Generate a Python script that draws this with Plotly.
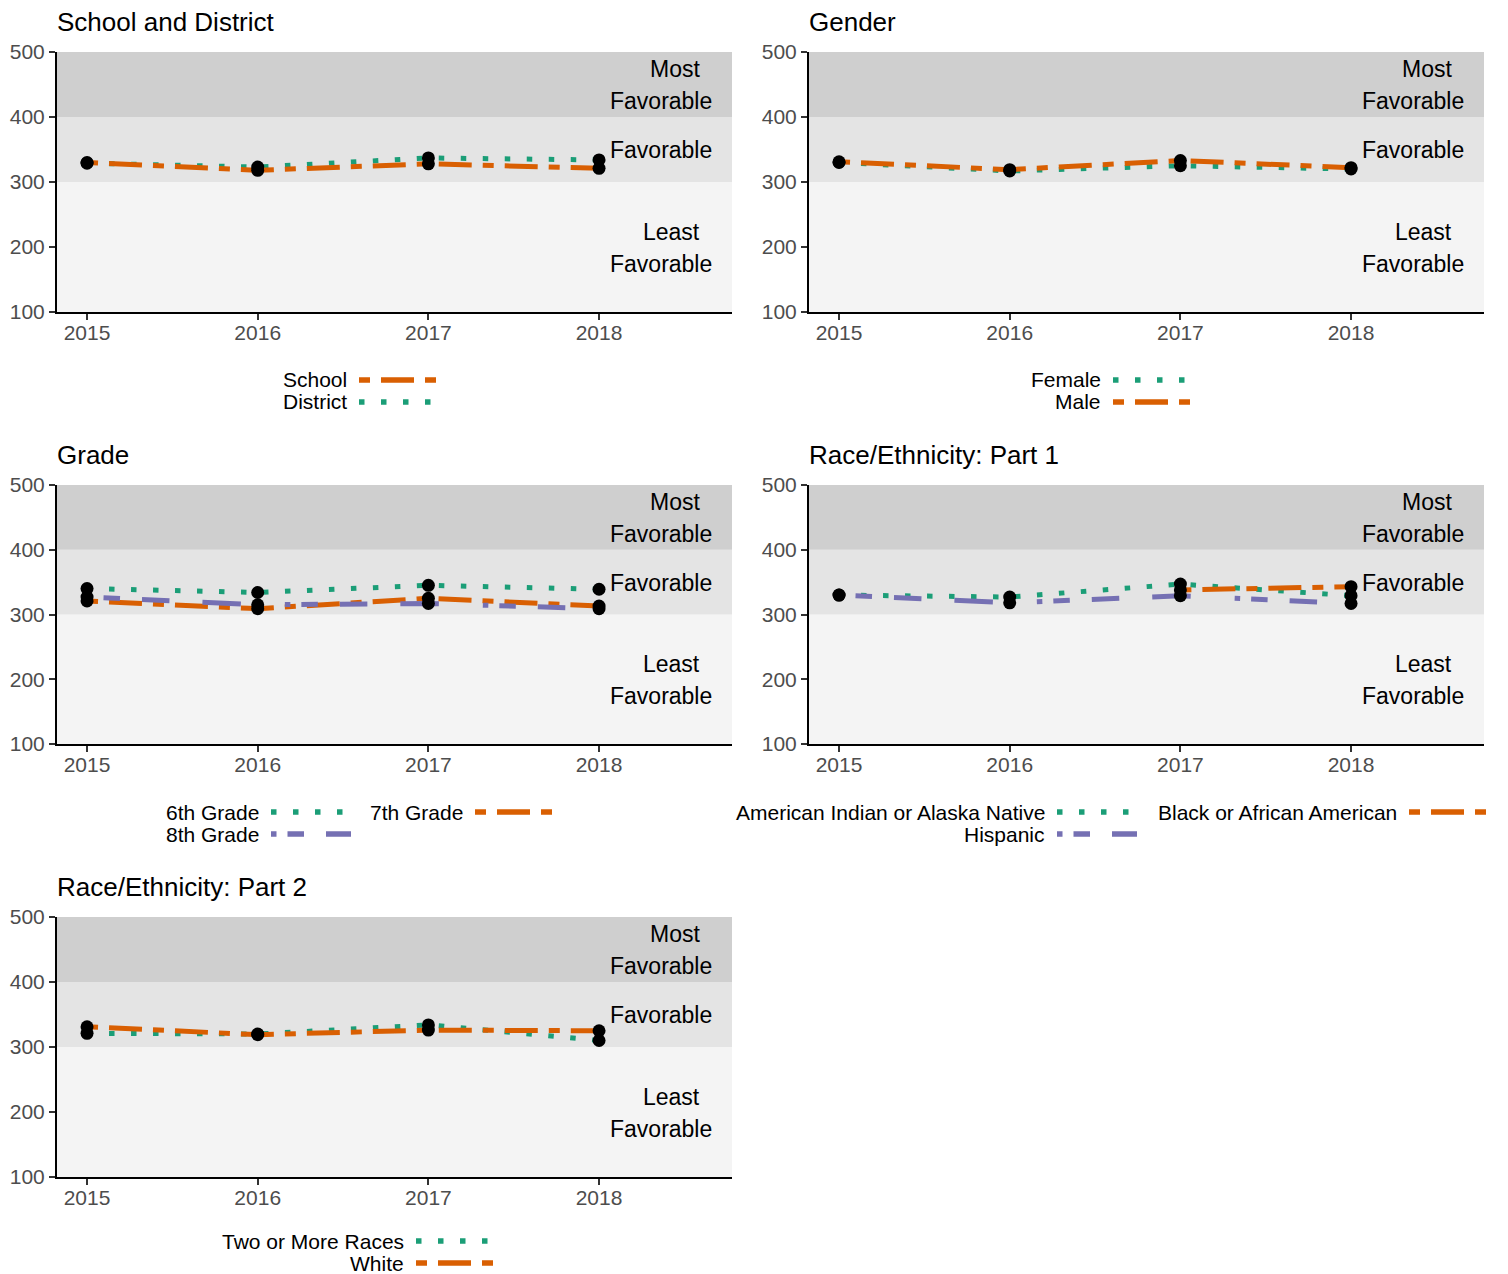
import plotly.graph_objects as go

# ---------------- data ----------------
years = [2015, 2016, 2017, 2018]
year_ticks = [2015, 2016, 2017, 2018]
y_ticks = [100, 200, 300, 400, 500]

panel_titles = ["School and District", "Gender", "Grade",
                "Race/Ethnicity: Part 1", "Race/Ethnicity: Part 2"]

# School and District
school = [330, 318, 328, 321]
district = [329, 323, 337, 334]
# Gender
female = [330, 317, 325, 320]
male = [331, 319, 333, 322]
# Grade
grade6 = [340, 334, 345, 339]
grade7 = [321, 309, 325, 313]
grade8 = [327, 315, 317, 309]
# Race/Ethnicity part 1
aian = [330, 327, 347, 329]
black = [None, None, 338, 343]
hispanic = [330, 318, 329, 317]
# Race/Ethnicity part 2
two_or_more = [321, 320, 334, 310]
white = [331, 319, 326, 325]

# favorability bands (lower, upper)
band_edges = [100, 300, 400, 500]

# ---------------- styles ----------------
FONT = "Liberation Sans, Arial, Helvetica, sans-serif"
GREEN, ORANGE, PURPLE = "#1B9E77", "#D95F02", "#7570B3"
DOTTED = "5.5px,16.5px"
TWODASH = "11px,11px,33px,11px"
HEX8 = "5.5px,11px,16.5px,22px,27.5px,33px,38.5px,44px"
band_colors = ["#F4F4F4", "#E4E4E4", "#CFCFCF"]

W, H = 1508, 1274

# series per panel: (name, values, color, dash, legend row, legend col)
panels = [
    [("District", district, GREEN, DOTTED, 1, 0),
     ("School", school, ORANGE, TWODASH, 0, 0)],
    [("Female", female, GREEN, DOTTED, 0, 0),
     ("Male", male, ORANGE, TWODASH, 1, 0)],
    [("6th Grade", grade6, GREEN, DOTTED, 0, 0),
     ("7th Grade", grade7, ORANGE, TWODASH, 0, 1),
     ("8th Grade", grade8, PURPLE, HEX8, 1, 0)],
    [("American Indian or Alaska Native", aian, GREEN, DOTTED, 0, 0),
     ("Black or African American", black, ORANGE, TWODASH, 0, 1),
     ("Hispanic", hispanic, PURPLE, HEX8, 1, 0)],
    [("Two or More Races", two_or_more, GREEN, DOTTED, 0, 0),
     ("White", white, ORANGE, TWODASH, 1, 0)],
]

# panel pixel rectangles in page coords (left, top, right, bottom)
rects = [(57, 52, 732, 312), (809, 52, 1484, 312),
         (57, 485, 732, 744), (809, 485, 1484, 744),
         (57, 917, 732, 1177)]
# legend text right edges per column
legend_cols = [[349], [1103], [261, 465], [1047, 1399], [406]]

x_range = [2014.824, 2018.779]


def px(x):
    return x / W


def py(y):
    return 1 - y / H


fig = go.Figure()
shapes = []
annotations = []

for i, (series, rect) in enumerate(zip(panels, rects)):
    n = i + 1
    xa = "x" if n == 1 else f"x{n}"
    ya = "y" if n == 1 else f"y{n}"
    l, t, r, b = rect

    # lines first, then points on top
    for name, vals, color, dash, _, _ in series:
        fig.add_trace(go.Scatter(
            x=years, y=vals, mode="lines", name=name, showlegend=False,
            line=dict(color=color, width=5, dash=dash),
            xaxis=xa, yaxis=ya, hoverinfo="skip"))
    for name, vals, color, dash, _, _ in series:
        fig.add_trace(go.Scatter(
            x=years, y=vals, mode="markers", name=name, showlegend=False,
            marker=dict(color="black", size=13),
            xaxis=xa, yaxis=ya))

    axis_common = dict(showgrid=False, zeroline=False, showline=True,
                       automargin=False,
                       linecolor="black", linewidth=2, ticks="outside",
                       ticklen=6, tickwidth=1.5, tickcolor="#333333",
                       tickfont=dict(family=FONT, size=21, color="#4D4D4D"))
    fig.layout[("xaxis" if n == 1 else f"xaxis{n}")] = dict(
        domain=[px(l), px(r)], anchor=ya, range=x_range,
        tickvals=year_ticks, ticktext=[str(v) for v in year_ticks],
        ticklabelstandoff=-5, **axis_common)
    fig.layout[("yaxis" if n == 1 else f"yaxis{n}")] = dict(
        domain=[py(b), py(t)], anchor=xa, range=[band_edges[0], band_edges[-1]],
        tickvals=y_ticks, **axis_common)

    # background bands
    for k in range(3):
        shapes.append(dict(type="rect", xref=f"{xa} domain", yref=ya,
                           x0=0, x1=1, y0=band_edges[k], y1=band_edges[k + 1],
                           fillcolor=band_colors[k], line=dict(width=0),
                           layer="below"))

    # band labels
    for text, xf, yv in [("Most", 0.9156, 474), ("Favorable", 0.8948, 424.6),
                         ("Favorable", 0.8948, 349.2),
                         ("Least", 0.9111, 223), ("Favorable", 0.8948, 173.8)]:
        annotations.append(dict(text=text, xref=f"{xa} domain", yref=ya,
                                x=xf, y=yv, xanchor="center", yanchor="middle",
                                showarrow=False,
                                font=dict(family=FONT, size=23, color="black")))

    # panel title
    annotations.append(dict(text=panel_titles[i], xref="paper", yref="paper",
                            x=px(l - 2), y=py(t - 30), xanchor="left",
                            yanchor="middle", showarrow=False,
                            font=dict(family=FONT, size=26, color="black")))

    # legend (label on left, key on right); keep the block inside the page
    last_row = max(s[4] for s in series)
    lift = max(0, (b + 68 + 22 * last_row) - (H - 11))
    for name, vals, color, dash, row, col in series:
        tx = legend_cols[i][col]
        ty = b + 68 + 22 * row - lift
        annotations.append(dict(text=name, xref="paper", yref="paper",
                                x=px(tx), y=py(ty), xanchor="right",
                                yanchor="middle", showarrow=False,
                                font=dict(family=FONT, size=21, color="black")))
        shapes.append(dict(type="line", xref="paper", yref="paper",
                           x0=px(tx + 10), x1=px(tx + 90), y0=py(ty), y1=py(ty),
                           line=dict(color=color, width=5.5, dash=dash)))

fig.update_layout(width=W, height=H, margin=dict(l=0, r=0, t=0, b=0),
                  paper_bgcolor="white", plot_bgcolor="white",
                  showlegend=False, shapes=shapes, annotations=annotations,
                  font=dict(family=FONT))

fig.write_html("out.html", config={"displayModeBar": False},
               post_script="document.body.style.margin='0px';"
                           "document.body.style.overflow='hidden';")
